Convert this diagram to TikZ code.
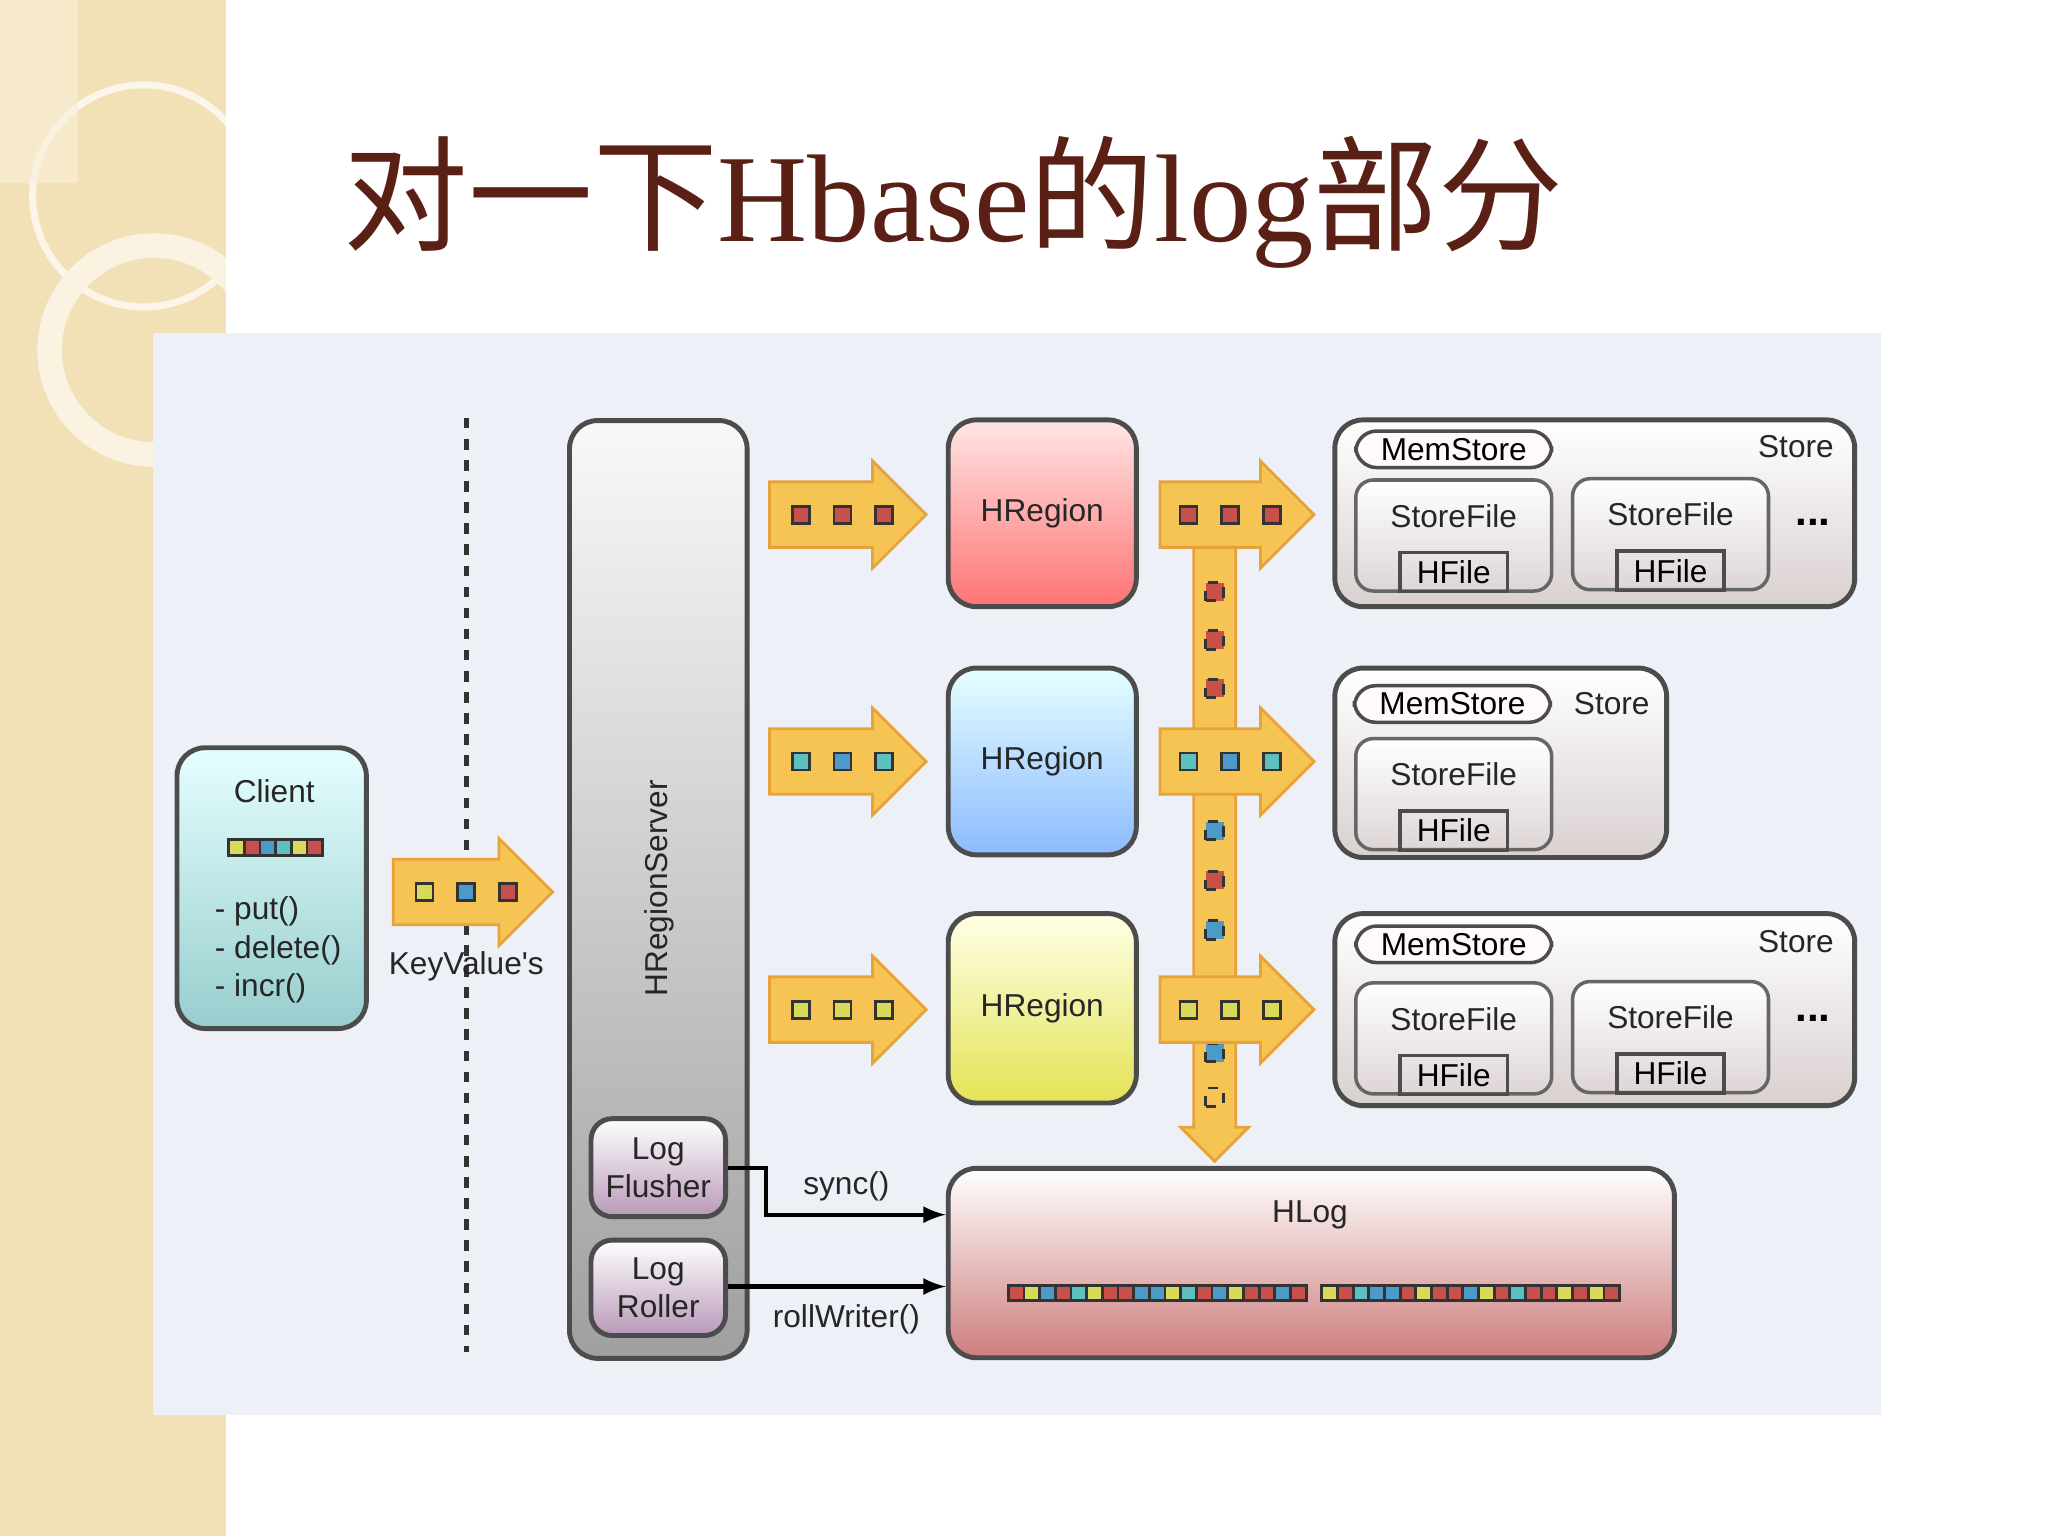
\documentclass[tikz,border=0pt]{standalone}
\usepackage{fontspec}
\setmainfont{Liberation Serif}
\newfontfamily\cjk{Noto Sans CJK SC}
\newfontfamily\sans{Liberation Sans}
\usetikzlibrary{shapes.arrows,calc}
\definecolor{strip}{HTML}{F2E0B6}
\definecolor{panel}{HTML}{EDF0F7}
\definecolor{titlec}{HTML}{5A2016}
\definecolor{arrowf}{HTML}{F6C453}
\definecolor{arrowd}{HTML}{E8A23A}
\definecolor{sqr}{HTML}{C8504A}
\definecolor{sqb}{HTML}{4C9AC8}
\definecolor{sqy}{HTML}{DADA5A}
\definecolor{sqc}{HTML}{5CC0C0}
\newcommand\pxl[1]{#1*0.013061cm}
\tikzset{
  box/.style n args={2}{draw=black!70, line width=1.4pt, rounded corners=8pt,
    minimum width={\pxl{#1}}, minimum height={\pxl{#2}}, inner sep=0pt},
  fat/.style={shape=single arrow, fill=arrowf, draw=arrowd, line width=0.8pt, anchor=tail,
    inner xsep=0pt, inner ysep={\pxl{24}}, single arrow head extend={\pxl{16}}},
  sq/.style={draw=black!80, line width=0.8pt, fill=#1, minimum size={\pxl{13}}, inner sep=0pt},
  lbl/.style={font=\sans\fontsize{9}{11}\selectfont, text=black!85},
  pill/.style={draw=black!70, line width=1pt, rounded corners=6pt, fill=white!90!pink,
    minimum width={\pxl{150}}, minimum height={\pxl{28}}, inner sep=0pt, font=\sans\fontsize{9}{11}\selectfont},
  sfile/.style={draw=black!60, line width=1pt, rounded corners=5pt, top color=white, bottom color=pink!35!gray!40,
    minimum width={\pxl{150}}, minimum height={\pxl{85}}, inner sep=0pt},
  hfile/.style={draw=black!70, line width=1pt, minimum width={\pxl{82}}, minimum height={\pxl{30}},
    inner sep=0pt, font=\sans\fontsize{9}{11}\selectfont},
}
\begin{document}
\begin{tikzpicture}[x=0.013061cm, y=-0.013061cm]
\useasboundingbox (0,0) rectangle (1568,1176);
\fill[white] (0,0) rectangle (1568,1176);
% left decorative strip
\fill[strip] (0,0) rectangle (173,1176);
\begin{scope}
\clip (0,0) rectangle (173,1176);
\draw[white!70!strip, line width=2pt] (110,150) circle (85);
\draw[white!60!strip, line width=7pt] (118,268) circle (80);
\fill[white!50!strip, opacity=0.6] (0,0) rectangle (60,140);
\end{scope}
% title
\node[text=titlec, font=\fontsize{35.5}{40}\selectfont, anchor=center] (title) at (730,155)
  {{\cjk 对一下}Hbase{\cjk 的}log{\cjk 部分}};
% panel
\fill[panel] (117,255) rectangle (1440,1083);
\draw[dashed, line width=1.5pt, black!80] (357,320) -- (357,1035);
% client
\node[box={145}{215}, top color=white!90!cyan, bottom color=cyan!35!gray!60] (client) at (208,680) {};
\node[lbl] (clientt) at (210,606) {Client};
\foreach \c [count=\i] in {sqy,sqr,sqb,sqc,sqy,sqr} \node[sq=\c, minimum size={\pxl{12}}] (cs\i) at (175+\i*12-6,649) {};
\node[lbl, align=left, anchor=north west] (ops) at (155,677) {- put()\\- delete()\\- incr()};
\node[fat, minimum height={\pxl{122}}] (ka) at (300,683) {};
\foreach \c [count=\i] in {sqy,sqb,sqr} \node[sq=\c] (ks\i) at (293+\i*32,683) {};
\node[lbl] (kv) at (357,740) {KeyValue's};
% region server
\node[box={136}{718}, top color=white!95!gray, bottom color=gray!75] (hrs) at (504,681) {};
\node[lbl, rotate=90] (hrst) at (505,680) {HRegionServer};
\node[box={103}{75}, rounded corners=6pt, top color=white, bottom color=violet!45!gray!55, lbl, align=center] (lf) at (504,894) {Log\\Flusher};
\node[box={103}{73}, rounded corners=6pt, top color=white, bottom color=violet!45!gray!55, lbl, align=center] (lr) at (504,986) {Log\\Roller};
% regions
\node[box={144}{143}, top color=white!90!red, bottom color=red!55!white, lbl] (r1) at (798,393) {HRegion};
\node[box={144}{143}, top color=white!90!cyan, bottom color=cyan!40!blue!45!white, lbl] (r2) at (798,583) {HRegion};
\node[box={144}{145}, top color=white!90!yellow, bottom color=yellow!60!olive!55!white, lbl] (r3) at (798,772) {HRegion};
% arrows into regions
\foreach \y/\ca/\cb/\cc [count=\k] in {394/sqr/sqr/sqr, 583/sqc/sqb/sqc, 773/sqy/sqy/sqy}{
  \node[fat, minimum height={\pxl{120}}] (ia\k) at (588,\y) {};
  \node[sq=\ca] (ia\k a) at (613,\y) {};
  \node[sq=\cb] (ia\k b) at (645,\y) {};
  \node[sq=\cc] (ia\k c) at (677,\y) {};
}
% vertical arrow to HLog
\node[fat, minimum height={\pxl{478}}, rotate=-90, inner ysep={\pxl{15}}, single arrow head extend={\pxl{10}}] (va) at (930,410) {};
\foreach \y/\c in {453/sqr,490/sqr,527/sqr,636/sqb,674/sqr,712/sqb,806/sqb}
  \node[sq=\c, dashed, minimum size={\pxl{14}}] at (930,\y) {};
\node[sq=arrowf, dashed, minimum size={\pxl{14}}] at (930,840) {};
% arrows out of regions
\foreach \y/\ca/\cb/\cc [count=\k] in {394/sqr/sqr/sqr, 583/sqc/sqb/sqc, 773/sqy/sqy/sqy}{
  \node[fat, minimum height={\pxl{118}}] (oa\k) at (887,\y) {};
  \node[sq=\ca] (oa\k a) at (910,\y) {};
  \node[sq=\cb] (oa\k b) at (942,\y) {};
  \node[sq=\cc] (oa\k c) at (974,\y) {};
}
% stores
\tikzset{store/.style n args={2}{box={#1}{#2}, top color=white, bottom color=pink!35!gray!45}}
\node[store={398}{143}] (st1) at (1221,393) {};
\node[store={254}{145}] (st2) at (1149,584) {};
\node[store={398}{147}] (st3) at (1221,773) {};
\node[lbl] (st1t) at (1375,342) {Store};
\node[lbl] (st2t) at (1234,539) {Store};
\node[lbl] (st3t) at (1375,721) {Store};
\node[pill] (m1) at (1113,344) {MemStore};
\node[pill] (m2) at (1112,539) {MemStore};
\node[pill] (m3) at (1113,723) {MemStore};
\foreach \x/\y/\n in {1113/410/a, 1279/409/b, 1113/608/c, 1113/795/d, 1279/794/e}{
  \node[sfile] (sf\n) at (\x,\y) {};
  \node[lbl] at (\x,395-410+\y) {StoreFile};
  \node[hfile] (hf\n) at (\x,\y+28) {HFile};
}
\node[font=\sans\bfseries\fontsize{12}{12}\selectfont] (dots1) at (1388,400) {...};
\node[font=\sans\bfseries\fontsize{12}{12}\selectfont] (dots2) at (1388,780) {...};
% HLog
\node[box={556}{145}, top color=white, bottom color=red!45!gray!70] (hlog) at (1004,967) {};
\node[lbl] (hlogt) at (1003,930) {HLog};
\foreach \c [count=\i] in {sqr,sqy,sqb,sqr,sqc,sqy,sqr,sqr,sqb,sqb,sqy,sqc,sqr,sqb,sqy,sqr,sqr,sqb,sqr}
  \node[sq=\c, minimum size={\pxl{12}}] at (772+\i*12-6,990) {};
\foreach \c [count=\i] in {sqy,sqr,sqc,sqb,sqb,sqr,sqy,sqr,sqr,sqb,sqy,sqr,sqc,sqr,sqr,sqy,sqr,sqy,sqr}
  \node[sq=\c, minimum size={\pxl{12}}] at (1012+\i*12-6,990) {};
% connectors
\coordinate (syncy) at (0,930);
\coordinate (rolly) at (0,985);
\draw[-latex, line width=1.2pt] (lf.east) -- ++(29,0) |- (hlog.west |- syncy);
\draw[-latex, line width=1.2pt] (lr.east |- rolly) -- (hlog.west |- rolly);
\node[lbl] (synct) at (648,908) {sync()};
\node[lbl] (rollt) at (648,1010) {rollWriter()};
\end{tikzpicture}
\end{document}
